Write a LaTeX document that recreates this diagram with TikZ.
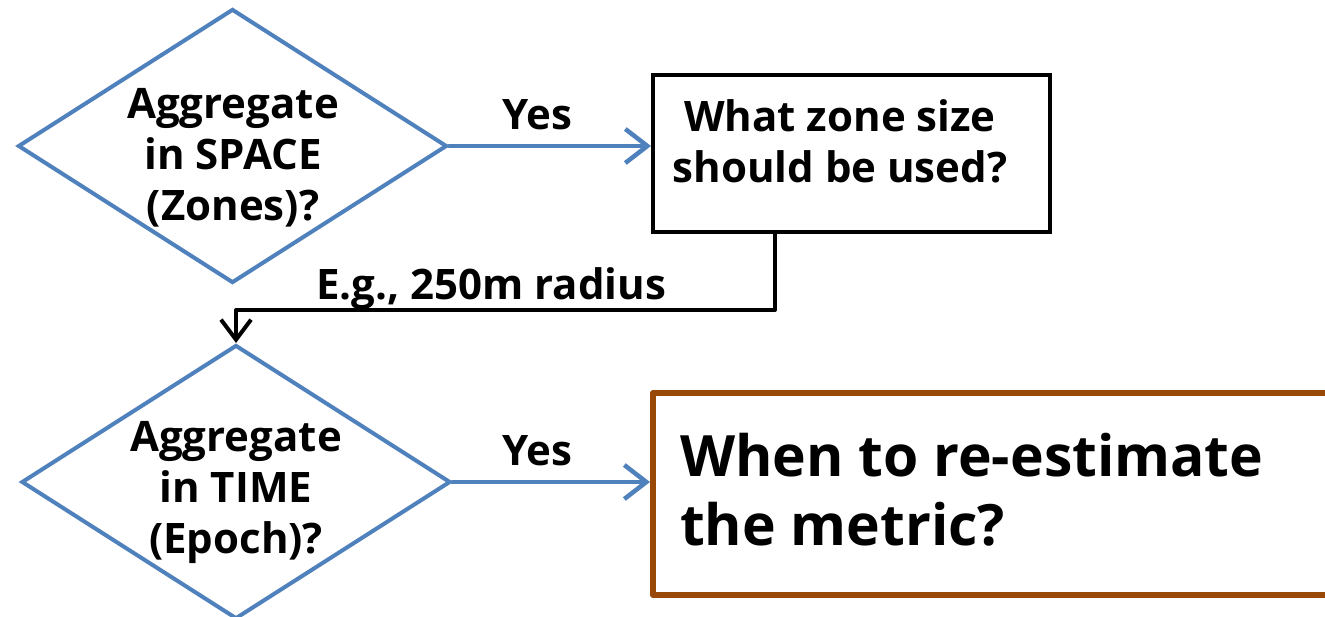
\documentclass[tikz,border=0pt]{standalone}
\usepackage{fontspec}
\setmainfont{Open Sans}
\usetikzlibrary{shapes.geometric,arrows.meta,calc}

\definecolor{flowblue}{RGB}{79,129,189}
\definecolor{flowbrown}{RGB}{152,72,7}

\begin{document}
\begin{tikzpicture}[x=1pt,y=-1pt,
  decision/.style={diamond, draw=flowblue, line width=4pt, inner sep=0pt,
    minimum width=429pt, minimum height=274pt},
  process/.style={rectangle, draw=black, line width=4pt, inner sep=0pt,
    minimum width=397pt, minimum height=157pt},
  goal/.style={rectangle, draw=flowbrown, line width=6pt, inner sep=0pt,
    line join=round, minimum width=700pt, minimum height=202pt},
  qtext/.style={inner sep=0pt, align=center, font=\fontsize{42}{51}\selectfont\bfseries},
  bigtext/.style={inner sep=0pt, align=left, font=\fontsize{57}{69}\selectfont\bfseries},
  lbl/.style={inner sep=0pt, font=\fontsize{42}{51}\selectfont\bfseries},
  yesarrow/.style={draw=flowblue, line width=4.5pt, line cap=round, line join=round,
    -{Straight Barb[length=22pt,width=34pt]}},
  connector/.style={draw=black, line width=4pt, line join=round,
    -{Straight Barb[length=20pt,width=30pt]}}]

\useasboundingbox (0,0) rectangle (1325,617);
\clip (0,0) rectangle (1325,617);
\fill[white] (0,0) rectangle (1325,617);

% shapes
\node[decision] (d1) at (232.5,146) {};
\node[process]  (box1) at (851.5,153.5) {};
\node[decision] (d2) at (236,482) {};
\node[goal]     (q2) at (1003,494) {};

% texts
\node[qtext] (t1) at (233,157.5) {Aggregate\\in SPACE\\(Zones)?};
\node[qtext] (t2) at (840,141.5) {What zone size\\should be used?};
\node[qtext] (t3) at (236,492.5) {Aggregate\\in TIME\\(Epoch)?};
\node[bigtext, anchor=west] (t4) at (680,490) {When to re-estimate\\the metric?};

% connectors
\draw[yesarrow] (d1.east) -- (d1.east -| box1.west);
\node[lbl, anchor=base] (yes1) at (537,130) {Yes};

\coordinate (elbow) at (775,310);
\draw[connector] (elbow |- box1.south) -- (elbow) -| (d2.north);
\node[lbl, anchor=base] (eg) at (491,300) {E.g., 250m radius};

\draw[yesarrow] (d2.east) -- (d2.east -| q2.west);
\node[lbl, anchor=base] (yes2) at (537,465) {Yes};

\end{tikzpicture}
\end{document}
